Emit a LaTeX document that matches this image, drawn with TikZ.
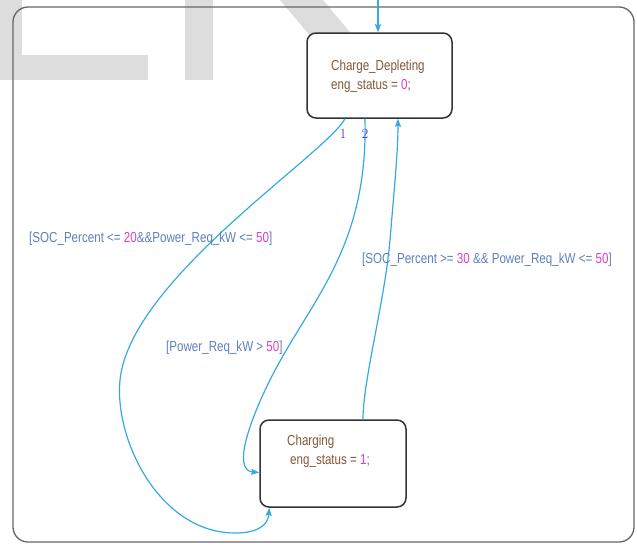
\documentclass[tikz,border=0pt]{standalone}
\usepackage{fontspec}
\newfontfamily\chartfont[FakeStretch=0.8]{Liberation Sans}
\usetikzlibrary{arrows.meta,calc}
\definecolor{wire}{HTML}{35AAE2}
\definecolor{guard}{HTML}{5E80BE}
\definecolor{num}{HTML}{E03CC8}
\definecolor{actn}{HTML}{84583A}
\definecolor{markgrey}{HTML}{DDDDDD}
\definecolor{idx}{HTML}{5A40D4}
\begin{document}
\begin{tikzpicture}[x=1pt,y=-1pt,
  state/.style={draw=black!80, line width=1.5pt, rounded corners=9pt, fill=white, inner sep=0pt},
  trans/.style={draw=wire, line width=1.2pt, -{Stealth[length=8pt,width=6pt,inset=1pt]}},
  chartlbl/.style={font=\chartfont\fontsize{14.5}{16}\selectfont, inner sep=0pt, anchor=base west},
  guardtxt/.style={chartlbl, text=guard},
  acttxt/.style={chartlbl, text=actn},
  idxtxt/.style={font=\fontsize{14}{14}\selectfont, text=idx, inner sep=0pt},
]
\useasboundingbox (0,0) rectangle (637,544);

% grey background marks
\fill[markgrey] (0,0) rectangle (22,80);
\fill[markgrey] (0,55) rectangle (148,80);
\fill[markgrey] (185,0) rectangle (213,80);
\fill[markgrey] (280,0) -- (323,0) -- (375,62) -- (332,62) -- cycle;

% chart frame
\draw[black!60, line width=1.3pt, rounded corners=15pt] (13,7) rectangle (634,542);

% states
\node[state, minimum width=145pt, minimum height=85pt] (cd) at (379.5,75.5) {};
\node[state, minimum width=146pt, minimum height=87pt] (ch) at (333,463.5) {};

\node[acttxt] (cdname) at (331,70) {Charge\_Depleting};
\node[acttxt] (cdact) at (331,89) {eng\_status = \textcolor{num}{0};};
\node[acttxt] (chname) at (287,445) {Charging};
\node[acttxt] (chact) at (290,464) {eng\_status = \textcolor{num}{1};};

% default transition
\coordinate (init) at (378,0);
\draw[trans] (init) -- (init |- cd.north);

% transitions
\draw[trans] ([xshift=-34.5pt]cd.south)
  .. controls (325,155) and (130,280) .. (120,380)
  .. controls (114,440) and (160,533) .. (235,533)
  .. controls (258,533) and (268,525) .. ([xshift=10pt]ch.south west);
\draw[trans] ([xshift=-14.5pt]cd.south)
  .. controls (368,250) and (310,300) .. (270,380)
  .. controls (250,420) and (232,470) .. ([yshift=-9pt]ch.west);
\draw[trans] ([xshift=30pt]ch.north)
  .. controls (363,380) and (385,300) .. (390,240)
  .. controls (395,180) and (398,150) .. ([xshift=18.5pt]cd.south);

% transition order numbers
\node[idxtxt] (n1) at (343,134) {1};
\node[idxtxt] (n2) at (365,134) {2};

% guards
\node[guardtxt] (g1) at (29,242) {[SOC\_Percent <= \textcolor{num}{20}\&\&Power\_Req\_kW <= \textcolor{num}{50}]};
\node[guardtxt] (g2) at (362,263) {[SOC\_Percent >= \textcolor{num}{30} \&\& Power\_Req\_kW <= \textcolor{num}{50}]};
\node[guardtxt] (g3) at (166,351) {[Power\_Req\_kW > \textcolor{num}{50}]};
\end{tikzpicture}
\end{document}
